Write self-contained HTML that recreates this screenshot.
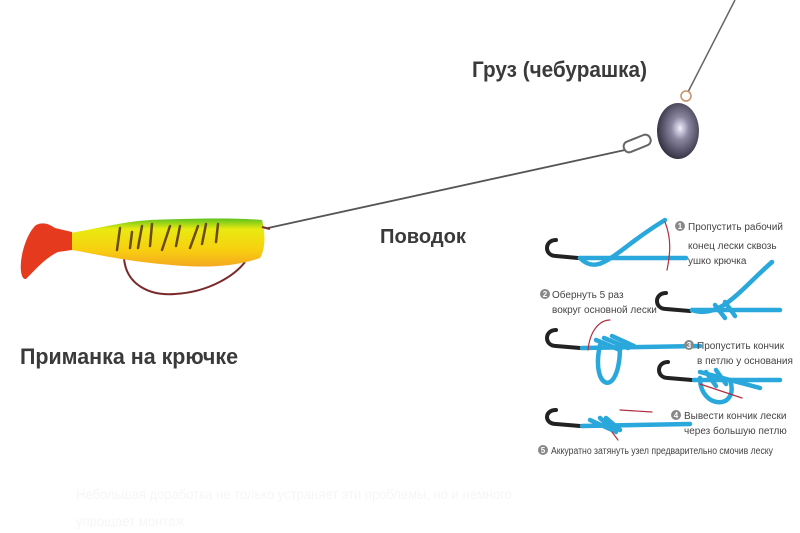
<!DOCTYPE html>
<html><head><meta charset="utf-8"><style>
html,body{margin:0;padding:0;background:#fff;width:800px;height:533px;overflow:hidden}
svg{display:block}
.lbl{font-family:"Liberation Sans",sans-serif;font-weight:bold;fill:#3a3a3a}
.k{font-family:"Liberation Sans",sans-serif;font-size:10px;fill:#444}
</style></head><body>
<svg width="800" height="533" viewBox="0 0 800 533" xmlns="http://www.w3.org/2000/svg">
<defs>
<linearGradient id="body" x1="0" y1="0" x2="0" y2="1">
<stop offset="0" stop-color="#5dc21e"/><stop offset="0.22" stop-color="#e8ea10"/><stop offset="0.65" stop-color="#f8d010"/><stop offset="1" stop-color="#f4a820"/>
</linearGradient>
<radialGradient id="lead" cx="0.55" cy="0.45" r="0.6">
<stop offset="0" stop-color="#f4f0ff"/><stop offset="0.35" stop-color="#8a86a0"/><stop offset="1" stop-color="#2a2838"/>
</radialGradient>
</defs>
<line x1="735" y1="0" x2="688" y2="92" stroke="#666" stroke-width="1.5"/>
<circle cx="686" cy="96" r="5" fill="none" stroke="#c89060" stroke-width="1.5"/>
<line x1="268" y1="228" x2="625" y2="150" stroke="#555" stroke-width="1.8"/>
<rect x="623" y="138" width="28" height="11" rx="5" transform="rotate(-22 637 143)" fill="none" stroke="#666" stroke-width="2"/>
<ellipse cx="678" cy="131" rx="21" ry="28" fill="url(#lead)"/>
<!-- lure -->
<path d="M124 258 C 126 285,150 296,175 294 C 210 292,235 275,245 262" fill="none" stroke="#7a2a2a" stroke-width="2"/>
<path d="M70 233 C 100 228,120 222,150 220 C 200 218,240 218,262 220 C 266 235,265 250,260 258 C 230 268,200 268,160 264 C 120 260,95 254,72 250 Z" fill="url(#body)"/>
<path d="M72 232 L55 228 C 48 223,42 222,36 225 C 28 232,22 250,21 262 C 20 272,22 280,26 279 C 35 270,45 258,58 252 L72 250 Z" fill="#e53a1e"/>
<g stroke="#6a4a1a" stroke-width="2.5" fill="none" stroke-linecap="round">
<path d="M120 228 L117 250"/><path d="M132 232 L130 248 M142 226 L138 248"/><path d="M152 224 L150 246"/>
<path d="M170 226 L162 250 M180 226 L176 246"/><path d="M198 226 L190 248 M206 224 L202 244"/><path d="M218 224 L216 242"/>
</g>
<line x1="262" y1="227" x2="270" y2="229" stroke="#7a2a2a" stroke-width="2"/>
<text class="lbl" x="472" y="77" font-size="22" textLength="175" lengthAdjust="spacingAndGlyphs">Груз (чебурашка)</text>
<text class="lbl" x="380" y="243" font-size="20" textLength="86" lengthAdjust="spacingAndGlyphs">Поводок</text>
<text class="lbl" x="20" y="364" font-size="22" textLength="218" lengthAdjust="spacingAndGlyphs">Приманка на крючке</text>
<!-- knot diagram -->
<g fill="none" stroke-linecap="round">
<g stroke="#222" stroke-width="4">
<path d="M556 240 C 544 240,544 256,556 256 L578 258"/><path d="M666 293 C 654 293,654 309,666 309 L690 311"/>
<path d="M556 330 C 544 330,544 346,556 346 L580 348"/><path d="M668 362 C 656 362,656 378,668 378 L692 380"/>
<path d="M556 410 C 544 410,544 424,556 424 L580 426"/>
</g>
<g stroke="#2aa8dc" stroke-width="4.5">
<path d="M580 258 L686 258"/><path d="M580 258 C 600 278,615 250,665 220"/>
<path d="M692 310 L780 310"/><path d="M692 310 C 720 320,740 290,772 262"/><path d="M715 305 L725 318 M725 302 L735 316"/>
<path d="M582 348 L700 346"/><path d="M600 345 C 590 390,620 400,620 346"/><path d="M596 340 L620 350 M604 338 L628 348 M612 336 L634 346"/>
<path d="M694 380 L780 380"/><path d="M700 378 C 700 410,740 410,730 380"/><path d="M700 372 L760 388"/><path d="M706 372 L716 386 M716 370 L726 384"/>
<path d="M582 426 L690 424"/><path d="M590 420 L612 430 M600 418 L616 432 M606 418 L620 430"/>
</g>
<g stroke="#b03040" stroke-width="1.2">
<path d="M665 222 C 672 240,670 255,667 270"/><path d="M588 350 C 590 330,600 320,610 320"/><path d="M700 384 L742 398"/><path d="M620 410 L652 412"/><path d="M612 432 L618 440"/>
</g>
</g>
<g font-family="Liberation Sans,sans-serif" font-size="8" font-weight="bold" fill="#fff" text-anchor="middle">
<circle cx="680" cy="226" r="5" fill="#888"/><text x="680" y="229">1</text>
<circle cx="545" cy="294" r="5" fill="#888"/><text x="545" y="297">2</text>
<circle cx="689" cy="345" r="5" fill="#888"/><text x="689" y="348">3</text>
<circle cx="676" cy="415" r="5" fill="#888"/><text x="676" y="418">4</text>
<circle cx="543" cy="450" r="5" fill="#888"/><text x="543" y="453">5</text>
</g>
<g class="k">
<text x="688" y="230">Пропустить рабочий</text>
<text x="688" y="249">конец лески сквозь</text>
<text x="688" y="264">ушко крючка</text>
<text x="552" y="298">Обернуть 5 раз</text>
<text x="552" y="313">вокруг основной лески</text>
<text x="697" y="349">Пропустить кончик</text>
<text x="697" y="364">в петлю у основания</text>
<text x="684" y="419">Вывести кончик лески</text>
<text x="684" y="434">через большую петлю</text>
<text x="551" y="454" textLength="222" lengthAdjust="spacingAndGlyphs">Аккуратно затянуть узел предварительно смочив леску</text>
</g>
<text x="76" y="499" font-family="Liberation Sans,sans-serif" font-size="14" fill="#f6f6f6" textLength="436" lengthAdjust="spacingAndGlyphs">Небольшая доработка не только устраняет эти проблемы, но и немного</text>
<text x="76" y="526" font-family="Liberation Sans,sans-serif" font-size="14" fill="#f6f6f6" textLength="112" lengthAdjust="spacingAndGlyphs">упрощает монтаж.</text>
</svg>
</body></html>
